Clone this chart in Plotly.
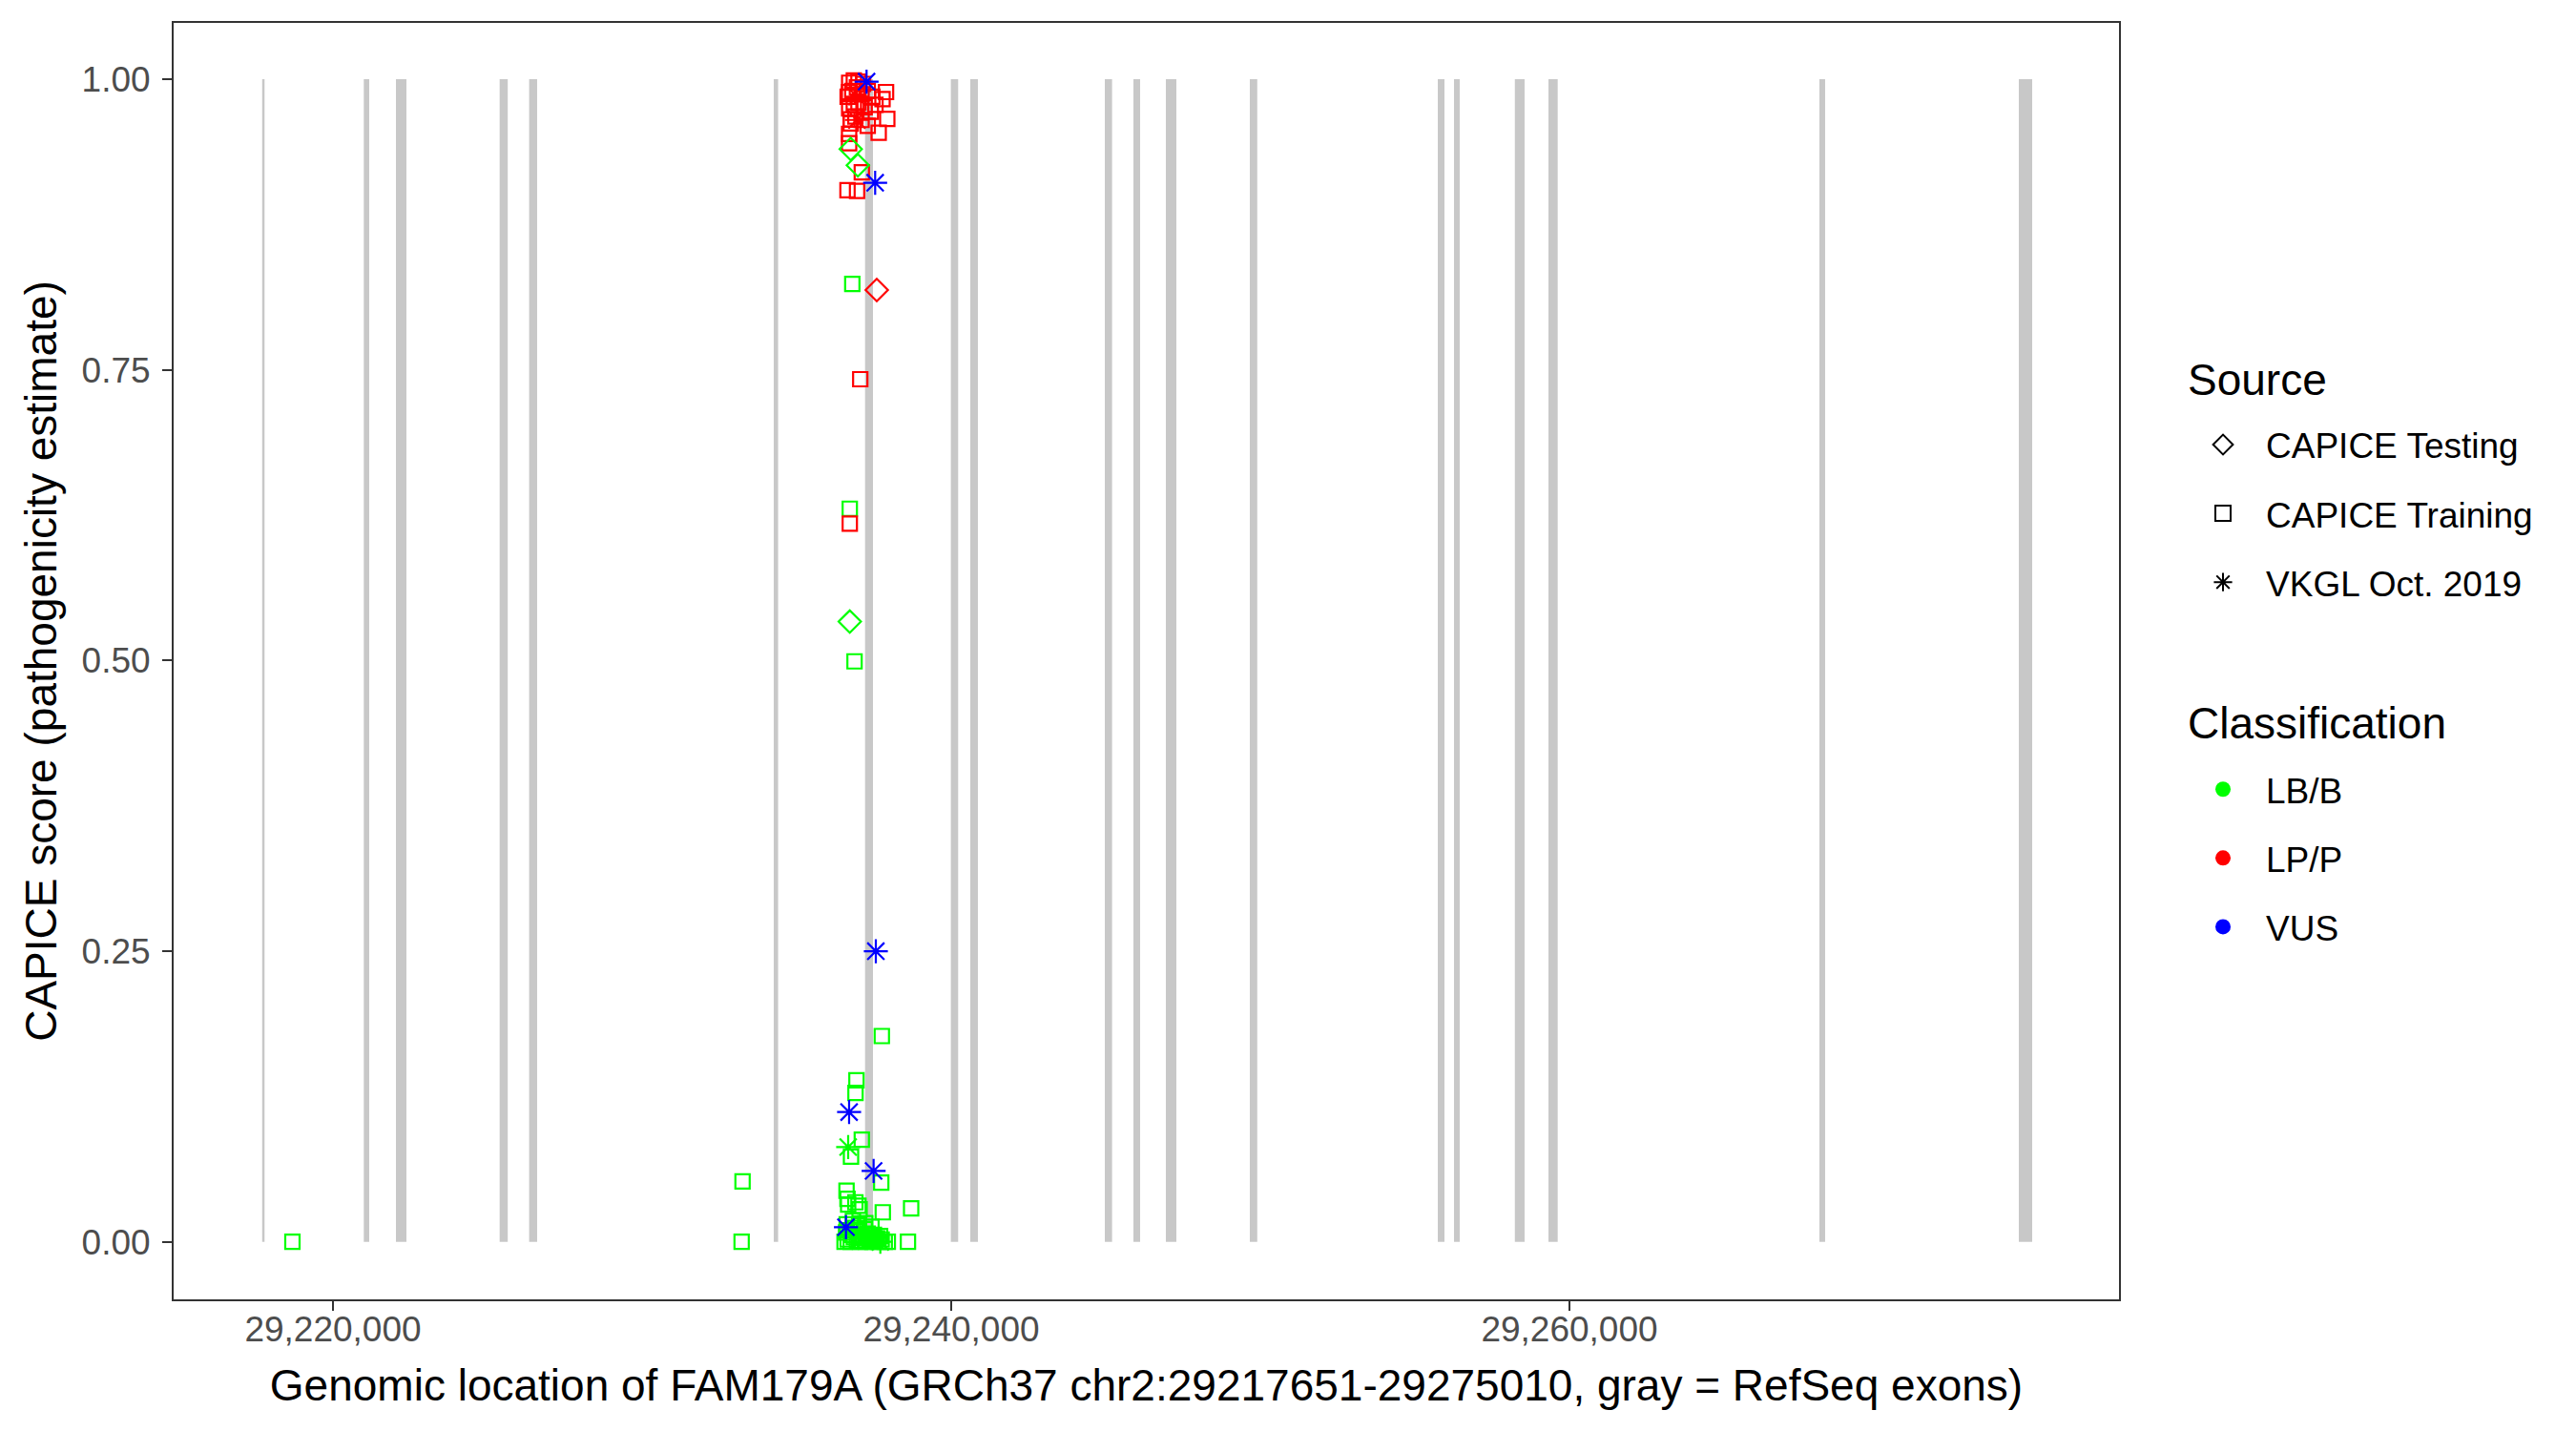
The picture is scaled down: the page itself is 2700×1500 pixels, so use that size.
import plotly.graph_objects as go

# ---------------- data ----------------
# RefSeq exons of FAM179A (GRCh37 chr2), start / end
exon_start = [29217710, 29220997, 29222037, 29225392, 29226346, 29234259, 29237213,
              29239988, 29240617, 29244969, 29245895, 29246944, 29249660, 29255741,
              29256265, 29258234, 29259321, 29268086, 29274537]
exon_end = [29217787, 29221173, 29222377, 29225654, 29226605, 29234401, 29237469,
            29240225, 29240864, 29245204, 29246111, 29247284, 29249901, 29255957,
            29256450, 29258549, 29259620, 29268271, 29274969]

# CAPICE Testing (diamond)
test_lbb_pos = [29236750, 29236980, 29236719]
test_lbb_score = [0.940, 0.926, 0.5335]
test_lpp_pos = [29237592]
test_lpp_score = [0.8187]

# CAPICE Training (square)
train_lpp_pos = [29236697, 29237892, 29237778, 29237932, 29237654, 29236750, 29236697,
                 29236697, 29237108, 29236645, 29236954, 29237058, 29236719,
                 29236700, 29236850, 29237000, 29237150, 29236650, 29236800, 29236950,
                 29237100, 29237300, 29237450, 29236700, 29236850, 29237000, 29237200,
                 29237400, 29237550, 29236750, 29236900, 29237100, 29237300]
train_lpp_score = [0.989, 0.989, 0.983, 0.966, 0.954, 0.9655, 0.953,
                   0.945, 0.920, 0.9046, 0.904, 0.742, 0.6177,
                   0.997, 0.999, 0.998, 0.996, 0.985, 0.990, 0.993,
                   0.987, 0.990, 0.985, 0.975, 0.978, 0.980, 0.976,
                   0.972, 0.978, 0.962, 0.968, 0.965, 0.960]
train_lbb_pos = [29236800, 29236719, 29236873,
                 29218688, 29233250, 29233220, 29237756, 29236935, 29236904, 29237108,
                 29236759, 29237737, 29236614, 29236645, 29236667, 29237037, 29237787,
                 29238704, 29238601, 29236900, 29237000,
                 29236550, 29236650, 29236750, 29236850, 29236950, 29237050, 29237150,
                 29237250, 29237350, 29237450, 29237550, 29237650, 29237750, 29237850,
                 29237950, 29236600, 29236700, 29236800, 29236900, 29237000, 29237100,
                 29237200, 29237300, 29237400, 29237500, 29237600, 29237700, 29236620,
                 29236820, 29237020, 29237220, 29237420]
train_lbb_score = [0.824, 0.6306, 0.4993,
                   0.0, 0.052, 0.0, 0.177, 0.139, 0.128, 0.0878,
                   0.0733, 0.0509, 0.044, 0.037, 0.032, 0.028, 0.0254,
                   0.0287, 0.0, 0.034, 0.031,
                   0.0, 0.002, 0.0, 0.004, 0.001, 0.0, 0.003,
                   0.0, 0.002, 0.0, 0.001, 0.0, 0.002, 0.0,
                   0.0, 0.008, 0.010, 0.006, 0.012, 0.009, 0.005,
                   0.011, 0.007, 0.004, 0.006, 0.003, 0.005, 0.015,
                   0.018, 0.014, 0.016, 0.013]

# VKGL Oct. 2019 (asterisk)
vkgl_vus_pos = [29237262, 29237540, 29237562, 29236697, 29237490, 29236595]
vkgl_vus_score = [0.998, 0.911, 0.250, 0.1116, 0.061, 0.0126]
vkgl_lbb_pos = [29236667, 29237707]
vkgl_lbb_score = [0.0815, 0.0]
vkgl_lpp_pos = [29236950, 29236950]
vkgl_lpp_score = [0.985, 0.965]

x_tick_vals = [29220000, 29240000, 29260000]
x_tick_text = ["29,220,000", "29,240,000", "29,260,000"]
y_tick_vals = [0.0, 0.25, 0.5, 0.75, 1.0]
y_tick_text = ["0.00", "0.25", "0.50", "0.75", "1.00"]

source_names = ["CAPICE Testing", "CAPICE Training", "VKGL Oct. 2019"]
class_names = ["LB/B", "LP/P", "VUS"]

# ---------------- styling ----------------
GREEN, RED, BLUE = "#00FF00", "#FF0000", "#0000FF"
FONT = "Liberation Sans, Arial, Helvetica, sans-serif"
sym = {"CAPICE Testing": "diamond-open", "CAPICE Training": "square-open",
       "VKGL Oct. 2019": "asterisk-open"}
msize = {"CAPICE Testing": 18, "CAPICE Training": 15, "VKGL Oct. 2019": 21}
leg_size = {"CAPICE Testing": 18, "CAPICE Training": 16, "VKGL Oct. 2019": 21}
cls_col = {"LB/B": GREEN, "LP/P": RED, "VUS": BLUE}

fig = go.Figure()

# exons as rectangles in data coordinates
for s, e in zip(exon_start, exon_end):
    fig.add_shape(type="rect", xref="x", yref="y", x0=s, x1=e, y0=0, y1=1,
                  fillcolor="#C8C8C8", line=dict(width=0), layer="below")

def pts(xs, ys, src, cls):
    c = cls_col[cls]
    fig.add_trace(go.Scatter(
        x=xs, y=ys, mode="markers", showlegend=False, hoverinfo="x+y",
        marker=dict(symbol=sym[src], size=msize[src], color=c,
                    line=dict(width=2.2, color=c))))

pts(train_lbb_pos, train_lbb_score, "CAPICE Training", "LB/B")
pts(train_lpp_pos, train_lpp_score, "CAPICE Training", "LP/P")
pts(test_lbb_pos, test_lbb_score, "CAPICE Testing", "LB/B")
pts(test_lpp_pos, test_lpp_score, "CAPICE Testing", "LP/P")
pts(vkgl_lbb_pos, vkgl_lbb_score, "VKGL Oct. 2019", "LB/B")
pts(vkgl_lpp_pos, vkgl_lpp_score, "VKGL Oct. 2019", "LP/P")
pts(vkgl_vus_pos, vkgl_vus_score, "VKGL Oct. 2019", "VUS")

# legend entries
for i, s in enumerate(source_names):
    fig.add_trace(go.Scatter(
        x=[None], y=[None], mode="markers", name=s, legend="legend",
        legendgroup="s%d" % i,
        marker=dict(symbol=sym[s], size=leg_size[s],
                    color="black", line=dict(width=2, color="black"))))
for i, c in enumerate(class_names):
    fig.add_trace(go.Scatter(
        x=[None], y=[None], mode="markers", name=c, legend="legend2",
        legendgroup="c%d" % i,
        marker=dict(symbol="circle", size=19, color=cls_col[c])))

# page has an 8px body margin: panel spans page x 182..2221, y 24..1362
L, T = 174, 16
PW, PH = 2039, 1338
W, H = 2684, 1484
R, B = W - L - PW, H - T - PH

axis_common = dict(showgrid=False, zeroline=False, showline=True, mirror=True,
                   linecolor="#333333", linewidth=2, ticks="outside", ticklen=10,
                   tickwidth=2, tickcolor="#333333",
                   tickfont=dict(family=FONT, size=37, color="#4D4D4D"))

leg_common = dict(font=dict(family=FONT, size=37), xanchor="left", yanchor="top",
                  tracegroupgap=21, traceorder="grouped", bgcolor="rgba(0,0,0,0)",
                  indentation=0, itemwidth=80)

fig.update_layout(
    width=W, height=H,
    margin=dict(l=L, r=R, t=T, b=B, pad=0),
    paper_bgcolor="white", plot_bgcolor="white",
    font=dict(family=FONT, color="black"),
    xaxis=dict(range=[29214846, 29277778], tickvals=x_tick_vals, ticktext=x_tick_text,
               ticklabelstandoff=-12,
               title=dict(text="Genomic location of FAM179A (GRCh37 chr2:29217651-29275010, gray = RefSeq exons)",
                          font=dict(family=FONT, size=46, color="black"), standoff=22),
               **axis_common),
    yaxis=dict(range=[-0.0495, 1.0485], tickvals=y_tick_vals, ticktext=y_tick_text,
               ticklabelstandoff=5,
               title=dict(text="CAPICE score (pathogenicity estimate)",
                          font=dict(family=FONT, size=46, color="black"), standoff=11),
               **axis_common),
    legend=dict(x=1.0314, y=0.6925, **leg_common),
    legend2=dict(x=1.0314, y=0.4225, **leg_common),
    annotations=[
        dict(text="Source", xref="paper", yref="paper", x=1.0341, y=0.7205,
             xanchor="left", yanchor="middle", showarrow=False,
             font=dict(family=FONT, size=46, color="black")),
        dict(text="Classification", xref="paper", yref="paper", x=1.0341, y=0.4514,
             xanchor="left", yanchor="middle", showarrow=False,
             font=dict(family=FONT, size=46, color="black")),
    ],
)

fig.write_html("out.html")
